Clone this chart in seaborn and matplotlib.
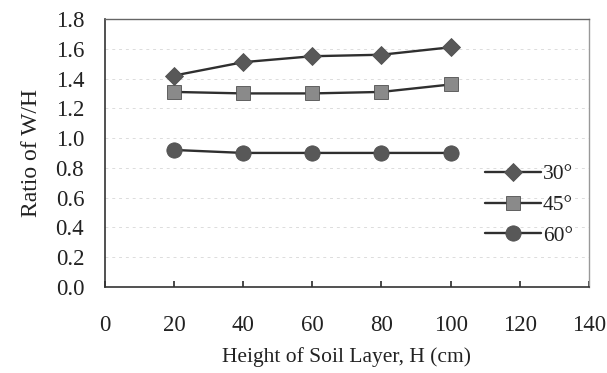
import matplotlib
matplotlib.use("Agg")
import matplotlib.pyplot as plt
import seaborn as sns
import pandas as pd

heights = [20, 40, 60, 80, 100]
angles = ["30°", "45°", "60°"]
ratio_30 = [1.42, 1.51, 1.55, 1.56, 1.61]
ratio_45 = [1.31, 1.30, 1.30, 1.31, 1.36]
ratio_60 = [0.92, 0.90, 0.90, 0.90, 0.90]

df = pd.DataFrame({
    "H": heights * 3,
    "ratio": ratio_30 + ratio_45 + ratio_60,
    "angle": [angles[0]] * 5 + [angles[1]] * 5 + [angles[2]] * 5,
})

sns.set_theme(style="white")
plt.rcParams["font.family"] = ["Liberation Serif", "DejaVu Serif"]

fig = plt.figure(figsize=(6.07, 3.73), dpi=100)
ax = fig.add_axes([0.173, 0.231, 0.797, 0.718])

marker_colors = {"30°": "#585858", "45°": "#8a8a8a", "60°": "#585858"}
markers = {"30°": "D", "45°": "s", "60°": "o"}
sizes = {"30°": 9, "45°": 10.5, "60°": 11}

for a in angles:
    sub = df[df["angle"] == a]
    sns.lineplot(data=sub, x="H", y="ratio", ax=ax, color="#2f2f2f", linewidth=1.7,
                 marker=markers[a], markersize=sizes[a], markerfacecolor=marker_colors[a],
                 markeredgecolor="#505050", markeredgewidth=0.6, label=a)

ax.set_xlim(0, 140)
ax.set_ylim(0, 1.8)
ax.set_xticks(range(0, 141, 20))
ax.set_yticks([i * 0.2 for i in range(10)])
ax.set_yticklabels([f"{i*0.2:.1f}" for i in range(10)])
ax.tick_params(axis="x", direction="in", length=4, pad=20, labelsize=16.5, color="#333333", bottom=True)
ax.tick_params(axis="y", length=0, pad=15, labelsize=16.5)
for lab in ax.get_xticklabels() + ax.get_yticklabels():
    lab.set_color("#222222")

ax.yaxis.grid(True, color="#dcdcdc", linestyle=(0, (3, 4)), linewidth=0.7)
ax.set_axisbelow(True)

for s in ["left", "bottom"]:
    ax.spines[s].set_color("#333333")
    ax.spines[s].set_linewidth(1.2)
ax.spines["top"].set_color("#666666")
ax.spines["right"].set_color("#999999")
for s in ["top", "right"]:
    ax.spines[s].set_linewidth(1.0)
    ax.spines[s].set_linestyle((0, (2, 1)))

ax.set_xlabel("Height of Soil Layer, H (cm)", fontsize=15.5, color="#222222", labelpad=8)
ax.set_ylabel("Ratio of W/H", fontsize=17, color="#222222", labelpad=10)

leg = ax.legend(loc="center right", bbox_to_anchor=(0.985, 0.305), frameon=False, fontsize=15.5,
                handlelength=2.6, handletextpad=0.1, labelspacing=0.5, borderaxespad=0.0)
for t in leg.get_texts():
    t.set_color("#222222")

fig.savefig("out.png", dpi=100)
